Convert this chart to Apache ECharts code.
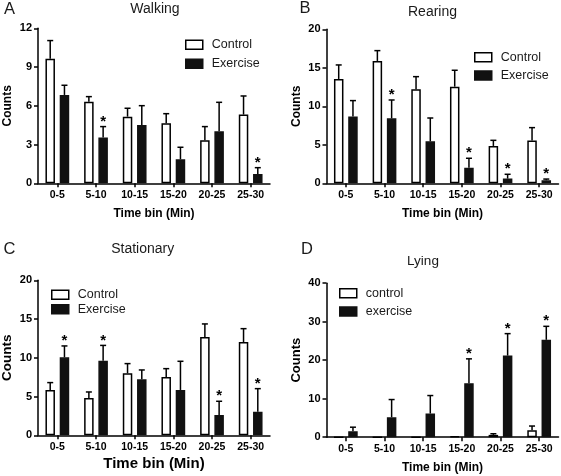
<!DOCTYPE html>
<html><head><meta charset="utf-8">
<script src="https://cdn.jsdelivr.net/npm/echarts@6/dist/echarts.min.js"></script>
<style>html,body{margin:0;padding:0;background:#fff}#c{width:561px;height:476px}</style>
</head><body><div id="c"></div>
<script>
// ---- data ----
const bins = ['0-5', '5-10', '10-15', '15-20', '20-25', '25-30'];

// A Walking
const walkingControl     = [9.65, 6.32, 5.16, 4.65, 3.33, 5.32];
const walkingControlErr  = [11.05, 6.71, 5.81, 5.39, 4.39, 6.76];
const walkingExercise    = [6.84, 3.54, 4.52, 1.86, 4.03, 0.72];
const walkingExerciseErr = [7.59, 4.39, 6.01, 2.79, 6.27, 1.21];
const walkingStars       = [0, 1, 0, 0, 0, 1];
const walkingTicks       = [0, 3, 6, 9, 12];

// B Rearing
const rearingControl     = [13.55, 15.89, 12.21, 12.55, 4.85, 5.55];
const rearingControlErr  = [15.37, 17.23, 13.85, 14.68, 5.58, 7.23];
const rearingExercise    = [8.66, 8.44, 5.45, 2.03, 0.61, 0.40];
const rearingExerciseErr = [10.74, 10.82, 8.48, 3.25, 1.17, 0.55];
const rearingStars       = [0, 1, 0, 1, 1, 1];
const rearingTicks       = [0, 5, 10, 15, 20];

// C Stationary
const stationaryControl     = [5.85, 4.82, 8.00, 7.53, 12.69, 12.04];
const stationaryControlErr  = [6.80, 5.59, 9.25, 8.60, 14.37, 13.76];
const stationaryExercise    = [10.06, 9.63, 7.23, 5.85, 2.62, 3.05];
const stationaryExerciseErr = [11.53, 11.60, 8.43, 9.55, 4.39, 6.02];
const stationaryStars       = [1, 1, 0, 0, 1, 1];
const stationaryTicks       = [0, 5, 10, 15, 20];

// D Lying
const lyingControl     = [0, 0, 0, 0.2, 0.6, 1.8];
const lyingControlErr  = [0, 0, 0, 0.2, 0.9, 2.9];
const lyingExercise    = [1.56, 5.19, 6.15, 14.03, 21.2, 25.3];
const lyingExerciseErr = [2.6, 9.78, 10.82, 20.35, 26.9, 28.8];
const lyingStars       = [0, 0, 0, 1, 1, 1];
const lyingTicks       = [0, 10, 20, 30, 40];

// ---- layout / style ----
const FONT = "'Liberation Sans', Arial, Helvetica, sans-serif";
const BAR_W = 9.5, GAP_RATIO = 0.5;
const OFFSET = (BAR_W + BAR_W * GAP_RATIO) / 2;

const panels = [
  { letter: 'A', title: 'Walking', names: ['Control', 'Exercise'],
    ctrl: walkingControl, ctrlErr: walkingControlErr, ex: walkingExercise, exErr: walkingExerciseErr,
    stars: walkingStars, ticks: walkingTicks,
    grid: { left: 38, top: 28.3, width: 232, height: 155 },
    legend: { left: 185, top: 38.3, itemGap: 6 },
    titlePos: [155, 9.5], titleSize: 14, letterPos: [9.5, 9.5],
    xNameSize: 12, xNameGap: 24, yNameSize: 12, yNameGap: 24 },
  { letter: 'B', title: 'Rearing', names: ['Control', 'Exercise'],
    ctrl: rearingControl, ctrlErr: rearingControlErr, ex: rearingExercise, exErr: rearingExerciseErr,
    stars: rearingStars, ticks: rearingTicks,
    grid: { left: 326.5, top: 29.3, width: 232, height: 154 },
    legend: { left: 474, top: 50.7, itemGap: 5.3 },
    titlePos: [432.5, 12.3], titleSize: 14, letterPos: [305, 8.5],
    xNameSize: 12, xNameGap: 24, yNameSize: 12, yNameGap: 24 },
  { letter: 'C', title: 'Stationary', names: ['Control', 'Exercise'],
    ctrl: stationaryControl, ctrlErr: stationaryControlErr, ex: stationaryExercise, exErr: stationaryExerciseErr,
    stars: stationaryStars, ticks: stationaryTicks,
    grid: { left: 38, top: 280.3, width: 232, height: 155 },
    legend: { left: 51, top: 288.3, itemGap: 1.4 },
    titlePos: [142.7, 249.3], titleSize: 14, letterPos: [9.5, 249.3],
    xNameSize: 15, xNameGap: 21, yNameSize: 13.5, yNameGap: 24 },
  { letter: 'D', title: 'Lying', names: ['control', 'exercise'],
    ctrl: lyingControl, ctrlErr: lyingControlErr, ex: lyingExercise, exErr: lyingExerciseErr,
    stars: lyingStars, ticks: lyingTicks,
    grid: { left: 326.5, top: 283.2, width: 232, height: 154 },
    legend: { left: 339, top: 286.7, itemGap: 5.3 },
    titlePos: [423, 261], titleSize: 13.5, letterPos: [307, 249.3],
    xNameSize: 12, xNameGap: 24, yNameSize: 13, yNameGap: 24 }
];

const grids = [], xAxes = [], yAxes = [], series = [], legends = [], graphics = [];

function errSeries(i, vals, errs, stars, offset) {
  return {
    type: 'custom', xAxisIndex: i, yAxisIndex: i, z: 5, silent: true,
    data: bins.map((b, j) => [j, vals[j], errs[j], stars ? stars[j] : 0]),
    encode: { x: 0, y: 2 },
    renderItem: function (params, api) {
      const j = api.value(0), v = api.value(1), e = api.value(2), s = api.value(3);
      const p0 = api.coord([j, v]);
      const p1 = api.coord([j, e]);
      const x = p0[0] + offset;
      const children = [];
      const ls = { stroke: '#000', lineWidth: 1.5 };
      if (e > v) {
        children.push({ type: 'line', shape: { x1: x, y1: p0[1], x2: x, y2: p1[1] }, style: ls });
        children.push({ type: 'line', shape: { x1: x - 3, y1: p1[1], x2: x + 3, y2: p1[1] }, style: ls });
      }
      if (s) {
        children.push({ type: 'text', style: { text: '*', x: x, y: p1[1] - 5, align: 'center',
          verticalAlign: 'middle', fill: '#000', font: 'bold 15px ' + FONT } });
      }
      return { type: 'group', children: children };
    }
  };
}

panels.forEach((p, i) => {
  grids.push(Object.assign({ outerBoundsMode: 'none', containLabel: false }, p.grid));
  xAxes.push({
    type: 'category', gridIndex: i, data: bins,
    name: 'Time bin (Min)', nameLocation: 'middle', nameGap: p.xNameGap,
    nameTextStyle: { fontFamily: FONT, fontWeight: 'bold', fontSize: p.xNameSize, color: '#000' },
    axisLine: { show: true, lineStyle: { color: '#000', width: 1.5 } },
    axisTick: { show: true, alignWithLabel: true, length: 4, lineStyle: { color: '#000', width: 1.5 } },
    axisLabel: { fontFamily: FONT, fontWeight: 'bold', fontSize: 10.5, color: '#000', margin: 6, interval: 0 },
    splitLine: { show: false }
  });
  yAxes.push({
    type: 'value', gridIndex: i, min: p.ticks[0], max: p.ticks[p.ticks.length - 1],
    interval: p.ticks[1] - p.ticks[0],
    name: 'Counts', nameLocation: 'middle', nameGap: p.yNameGap,
    nameTextStyle: { fontFamily: FONT, fontWeight: 'bold', fontSize: p.yNameSize, color: '#000' },
    axisLine: { show: true, lineStyle: { color: '#000', width: 1.5 } },
    axisTick: { show: true, length: 4, lineStyle: { color: '#000', width: 1.5 } },
    axisLabel: { fontFamily: FONT, fontWeight: 'bold', fontSize: 11, color: '#000', margin: 6 },
    splitLine: { show: false }
  });
  series.push({
    type: 'bar', name: p.names[0], xAxisIndex: i, yAxisIndex: i, data: p.ctrl,
    barWidth: BAR_W, barGap: (GAP_RATIO * 100) + '%',
    itemStyle: { color: '#fff', borderColor: '#000', borderWidth: 1.5 }, silent: true
  });
  series.push({
    type: 'bar', name: p.names[1], xAxisIndex: i, yAxisIndex: i, data: p.ex,
    barWidth: BAR_W, barGap: (GAP_RATIO * 100) + '%',
    itemStyle: { color: '#111', borderColor: '#111', borderWidth: 1.5 }, silent: true
  });
  series.push(errSeries(i, p.ctrl, p.ctrlErr, null, -OFFSET));
  series.push(errSeries(i, p.ex, p.exErr, p.stars, OFFSET));
  legends.push({
    left: p.legend.left, top: p.legend.top, orient: 'vertical', padding: 0,
    itemGap: p.legend.itemGap, itemWidth: 17, itemHeight: 9, selectedMode: false,
    icon: 'rect',
    textStyle: { fontFamily: FONT, fontSize: 12.5, color: '#1a1a1a', lineHeight: 12, padding: [0, 0, 0, 4] },
    data: [
      { name: p.names[0], itemStyle: { color: '#fff', borderColor: '#000', borderWidth: 1.5 } },
      { name: p.names[1], itemStyle: { color: '#111', borderColor: '#111', borderWidth: 1.5 } }
    ]
  });
  graphics.push({ type: 'text', x: p.titlePos[0], y: p.titlePos[1],
    style: { text: p.title, align: 'center', verticalAlign: 'middle', fill: '#1a1a1a',
      font: p.titleSize + 'px ' + FONT } });
  graphics.push({ type: 'text', x: p.letterPos[0], y: p.letterPos[1],
    style: { text: p.letter, align: 'center', verticalAlign: 'middle', fill: '#1a1a1a',
      font: '16.5px ' + FONT } });
});

const chart = echarts.init(document.getElementById('c'), null, { renderer: 'canvas' });
chart.setOption({
  animation: false,
  backgroundColor: '#fff',
  grid: grids, xAxis: xAxes, yAxis: yAxes, series: series, legend: legends,
  graphic: graphics
});
</script>
</body></html>
